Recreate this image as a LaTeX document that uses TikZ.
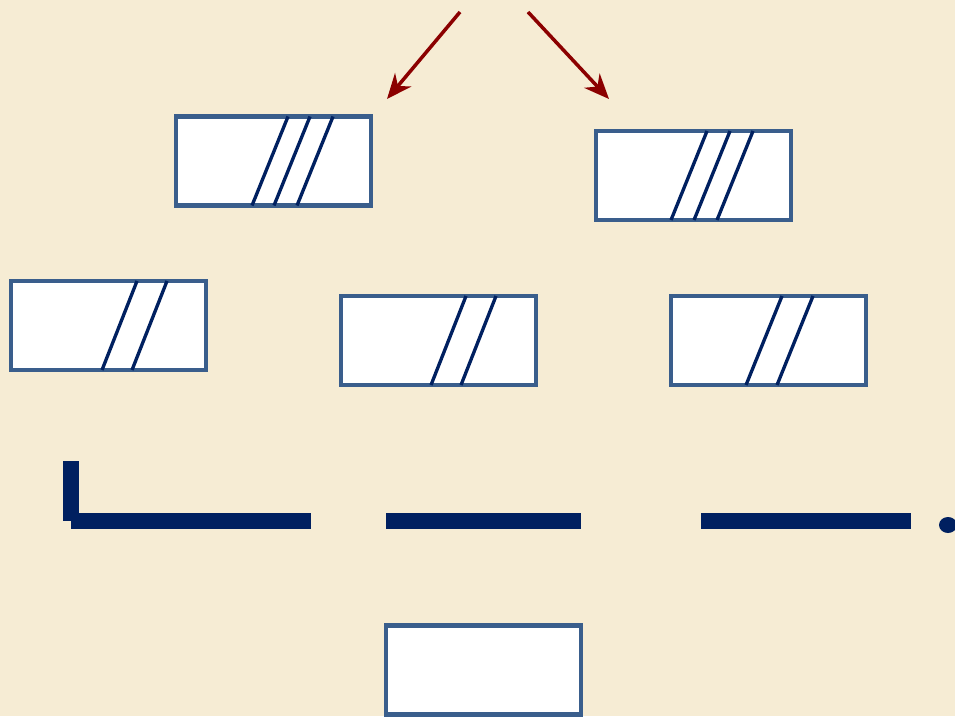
\documentclass[tikz,border=0pt]{standalone}
\usetikzlibrary{arrows.meta}
\definecolor{paper}{RGB}{246,236,212}
\definecolor{boxblue}{RGB}{58,94,140}
\definecolor{navy}{RGB}{0,32,96}
\definecolor{darkred}{RGB}{139,0,0}

\begin{document}
\begin{tikzpicture}[x=0.02cm, y=-0.02cm,
  box/.style = {draw=boxblue, fill=white, line width=2.4pt, minimum width=3.9cm, minimum height=1.78cm, inner sep=0pt, outer sep=0pt},
  hatch/.style = {draw=navy, line width=1.9pt},
  arr/.style = {draw=darkred, line width=2pt, -{Stealth[length=5mm, width=4.2mm, inset=1.6mm]}}]
\fill[paper] (0,0) rectangle (955,716);
\useasboundingbox (0,0) rectangle (955,716);

% boxes
\node[box] (r1) at (273.5,161) {};
\node[box] (r2) at (693.5,175.5) {};
\node[box] (r3) at (108.5,325.5) {};
\node[box] (r4) at (438.5,340.5) {};
\node[box] (r5) at (768.5,340.5) {};
\node[box] (r6) at (483.5,670) {};

% strokes in the boxes
\foreach \d in {76,98,121} \draw[hatch, shift={(r1.south west)}] (\d,0) -- ++(36,-89);
\foreach \d in {75,98,121} \draw[hatch, shift={(r2.south west)}] (\d,0) -- ++(36,-89);
\foreach \d in {91,121} \draw[hatch, shift={(r3.south west)}] (\d,0) -- ++(35,-89);
\foreach \d in {90,120} \draw[hatch, shift={(r4.south west)}] (\d,0) -- ++(35,-89);
\foreach \d in {75,106} \draw[hatch, shift={(r5.south west)}] (\d,0) -- ++(36,-89);

% arrows
\coordinate (a1) at (460,12);
\coordinate (b1) at (387,99);
\coordinate (a2) at (528,12);
\coordinate (b2) at (609,99);
\draw[arr] (a1) -- (b1);
\draw[arr] (a2) -- (b2);

% bars
\fill[navy] (63,461) rectangle (79,521);
\fill[navy] (71,513) rectangle (311,529);
\fill[navy] (386,513) rectangle (581,529);
\fill[navy] (701,513) rectangle (911,529);
\fill[navy] (948,525) ellipse [x radius=9, y radius=8];
\end{tikzpicture}
\end{document}
